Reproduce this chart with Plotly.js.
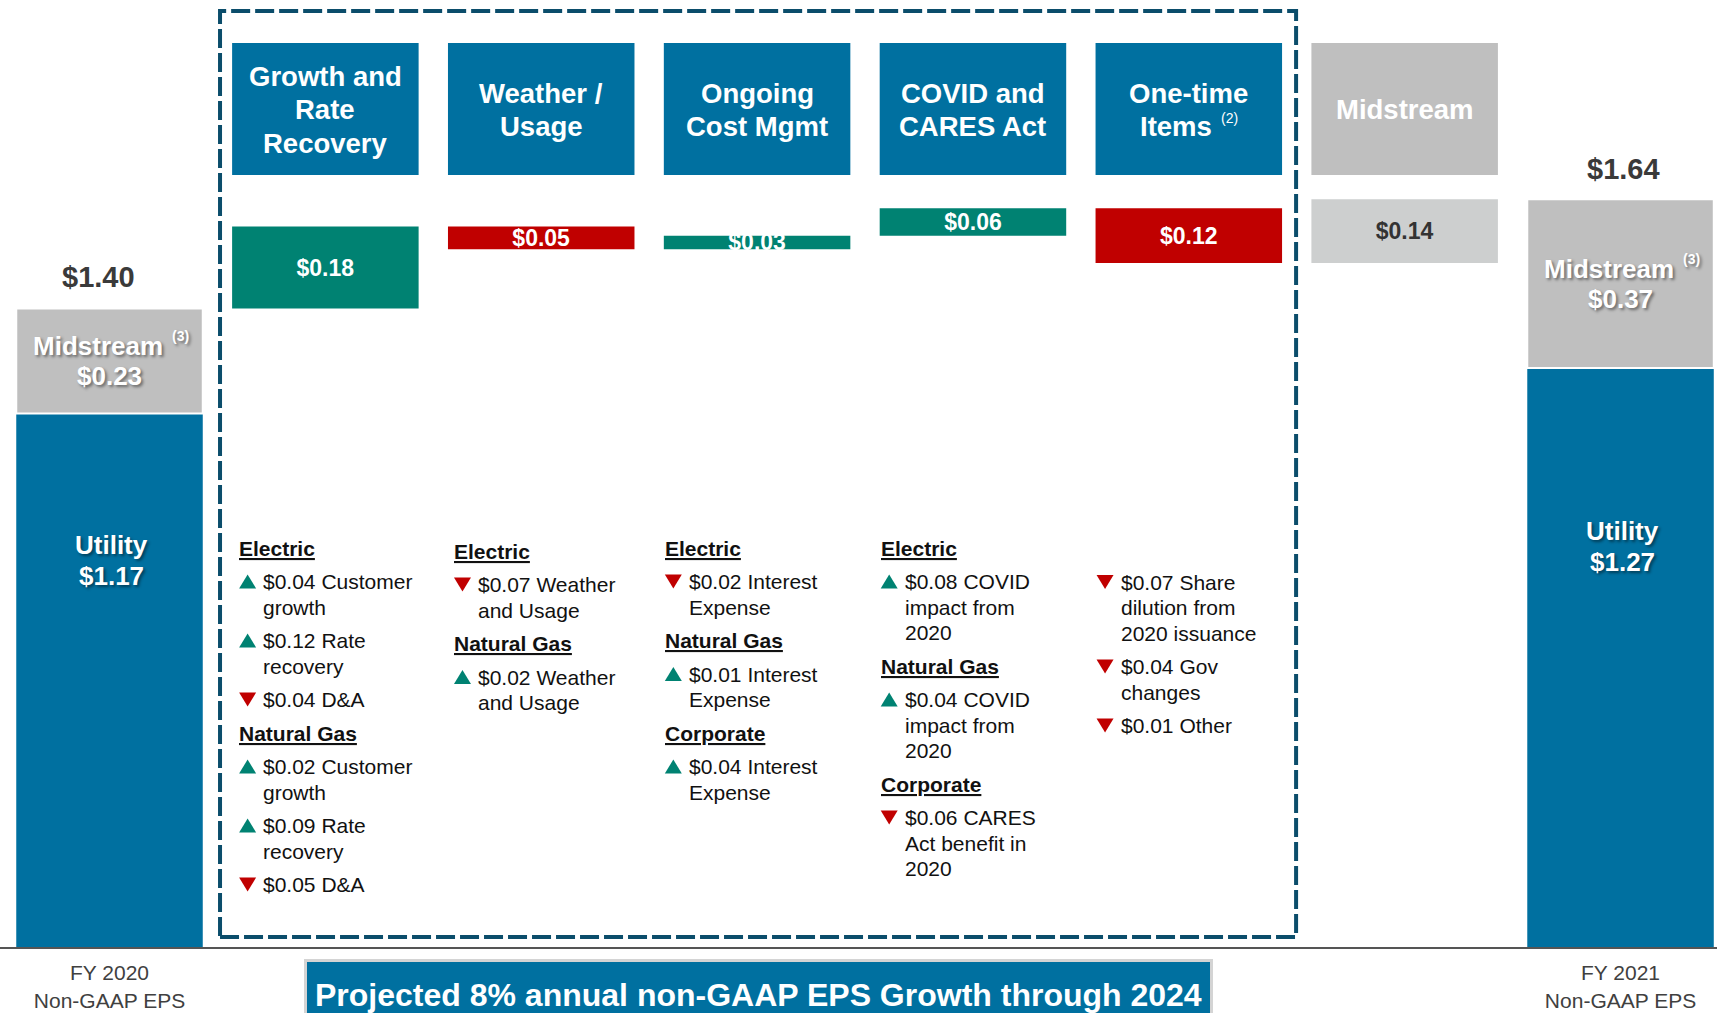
<!DOCTYPE html>
<html><head><meta charset="utf-8">
<script src="https://cdn.plot.ly/plotly-3.0.1.min.js"></script>
<style>html,body{margin:0;padding:0;background:#fff;overflow:hidden}#chart{width:1717px;height:1013px}</style>
</head><body><div id="chart"></div>
<script>
// ================= DATA =================
const categories = ["FY 2020<br>Non-GAAP EPS", "Growth and Rate Recovery", "Weather / Usage",
  "Ongoing Cost Mgmt", "COVID and CARES Act", "One-time Items", "Midstream", "FY 2021<br>Non-GAAP EPS"];
const headerLines = [["Growth and", "Rate", "Recovery"], ["Weather /", "Usage"], ["Ongoing", "Cost Mgmt"],
  ["COVID and", "CARES Act"], ["One-time", "Items"], ["Midstream"]];
const headerFootnotes = ["", "", "", "", "(2)", ""];
const utilityEps = [1.17, 1.27];     // FY 2020, FY 2021
const midstreamEps = [0.23, 0.37];   // FY 2020, FY 2021
const midstreamFootnote = "(3)";
const stepValues = [0.18, -0.05, 0.03, 0.06, -0.12, 0.14];
const stepSegment = ["utility", "utility", "utility", "utility", "utility", "midstream"];
const notesGrowth = [["h", "Electric"], ["up", "$0.04 Customer", "growth"], ["up", "$0.12 Rate", "recovery"],
  ["down", "$0.04 D&amp;A"], ["h", "Natural Gas"], ["up", "$0.02 Customer", "growth"],
  ["up", "$0.09 Rate", "recovery"], ["down", "$0.05 D&amp;A"]];
const notesWeather = [["h", "Electric"], ["down", "$0.07 Weather", "and Usage"], ["h", "Natural Gas"],
  ["up", "$0.02 Weather", "and Usage"]];
const notesCost = [["h", "Electric"], ["down", "$0.02 Interest", "Expense"], ["h", "Natural Gas"],
  ["up", "$0.01 Interest", "Expense"], ["h", "Corporate"], ["up", "$0.04 Interest", "Expense"]];
const notesCovid = [["h", "Electric"], ["up", "$0.08 COVID", "impact from", "2020"], ["h", "Natural Gas"],
  ["up", "$0.04 COVID", "impact from", "2020"], ["h", "Corporate"], ["down", "$0.06 CARES", "Act benefit in", "2020"]];
const notesOneTime = [["down", "$0.07 Share", "dilution from", "2020 issuance"], ["down", "$0.04 Gov", "changes"],
  ["down", "$0.01 Other"]];
const bannerText = "Projected 8% annual non-GAAP EPS Growth through 2024";

// ================= STYLE / LAYOUT CONSTANTS =================
const FONT = "Liberation Sans, Arial, Helvetica, sans-serif";
const BLUE = "#0070A0", TEAL = "#008272", RED = "#C00000", GRAY = "#BFBFBF", LIGHTGRAY = "#CDCFCF",
  NAVY = "#0B4D6B", DARK = "#3A3A3A", TXT = "#111111";
const W = 1717, H = 1013, PLOT_BOTTOM = 947, PX_PER_DOLLAR = 456;
const BW = 0.864;
const R0 = -0.5073, R1 = R0 + W / 215.86;
const yp = px => 1 - px / PLOT_BOTTOM;
const xPaper = (idx, shiftPx) => ((idx - R0) / (R1 - R0) * W + shiftPx) / W;
const SHADOW = "2px 2px 3px rgba(0,0,0,0.45)";

// ================= COMPUTE WATERFALL =================
const startTotal = utilityEps[0] + midstreamEps[0];
const endTotal = utilityEps[1] + midstreamEps[1];
let run = startTotal;
const stepBase = [], stepHeight = [];
stepValues.forEach(v => { const nxt = run + v; stepBase.push(Math.min(run, nxt)); stepHeight.push(Math.abs(v)); run = nxt; });
const stepCats = categories.slice(1, 7);
const endCats = [categories[0], categories[7]];
const stepColors = stepValues.map((v, i) => stepSegment[i] === "midstream" ? LIGHTGRAY : (v >= 0 ? TEAL : RED));
const stepTextColors = stepSegment.map(s => s === "midstream" ? "#333333" : "#FFFFFF");
const money = v => "$" + Math.abs(v).toFixed(2);

const traces = [
  { type: "bar", x: endCats, y: utilityEps, base: [0, 0], width: BW, marker: { color: BLUE, line: { width: 0 } }, hoverinfo: "skip" },
  { type: "bar", x: endCats, y: midstreamEps, base: utilityEps, width: BW, marker: { color: GRAY, line: { color: "#FFFFFF", width: 2 } }, hoverinfo: "skip" },
  { type: "bar", x: stepCats, y: stepHeight, base: stepBase, width: BW,
    marker: { color: stepColors, line: { width: 0 } },
    text: stepValues.map(money), texttemplate: "<b>%{text}</b>", textposition: "inside", insidetextanchor: "middle",
    constraintext: "none", textangle: 0, textfont: { family: FONT, size: 23, color: stepTextColors }, hoverinfo: "skip" }
];

const shapes = [], annotations = [];

// header boxes
headerLines.forEach((lines, i) => {
  const idx = i + 1;
  shapes.push({ type: "rect", layer: "above", xref: "x", yref: "paper", x0: idx - BW / 2, x1: idx + BW / 2,
    y0: yp(175), y1: yp(43), fillcolor: stepSegment[i] === "midstream" ? GRAY : BLUE, line: { width: 0 } });
  const n = lines.length;
  lines.forEach((t, k) => {
    const last = k === n - 1 && headerFootnotes[i];
    const yc = 110 + (k - (n - 1) / 2) * 33.5;
    annotations.push({ xref: "x", yref: "paper", x: idx, y: yp(yc), xshift: last ? -13 : 0, showarrow: false,
      text: "<b>" + t + "</b>", font: { family: FONT, size: 27.5, color: "#FFFFFF" }, xanchor: "center", yanchor: "middle" });
    if (last) annotations.push({ xref: "x", yref: "paper", x: idx, y: yp(yc - 9), xshift: 41, showarrow: false,
      text: headerFootnotes[i], font: { family: FONT, size: 14, color: "#FFFFFF" }, xanchor: "center", yanchor: "middle" });
  });
});

// dashed frame
shapes.push({ type: "rect", layer: "above", xref: "x", yref: "paper", x0: 0.512, x1: 5.497, y0: yp(937), y1: yp(11),
  line: { color: NAVY, width: 4, dash: "19px,5px" }, fillcolor: "rgba(0,0,0,0)" });

// totals
[[0, startTotal, -11, 32], [1, endTotal, 3, 30]].forEach(([j, tot, xs, ys]) => {
  annotations.push({ xref: "x", yref: "y", x: endCats[j], y: tot, xshift: xs, yshift: ys, showarrow: false,
    text: "<b>" + money(tot) + "</b>", font: { family: FONT, size: 29, color: DARK }, yanchor: "middle" });
});

// labels inside FY bars
const UTIL_LABEL_Y = [560, 546];
[0, 1].forEach(j => {
  ["Utility", money(utilityEps[j])].forEach((t, k) => {
    annotations.push({ xref: "x", yref: "paper", x: endCats[j], y: yp(UTIL_LABEL_Y[j] + (k - 0.5) * 31), xshift: 2, showarrow: false,
      text: "<b>" + t + "</b>", font: { family: FONT, size: 26, color: "#FFFFFF", shadow: SHADOW }, yanchor: "middle" });
  });
  const midC = utilityEps[j] + midstreamEps[j] / 2;
  annotations.push({ xref: "x", yref: "y", x: endCats[j], y: midC, xshift: -12, yshift: 15, showarrow: false,
    text: "<b>Midstream</b>", font: { family: FONT, size: 26, color: "#FFFFFF", shadow: SHADOW }, yanchor: "middle" });
  annotations.push({ xref: "x", yref: "y", x: endCats[j], y: midC, xshift: 71, yshift: 25, showarrow: false,
    text: "<b>" + midstreamFootnote + "</b>", font: { family: FONT, size: 14, color: "#FFFFFF", shadow: SHADOW }, yanchor: "middle" });
  annotations.push({ xref: "x", yref: "y", x: endCats[j], y: midC, yshift: -15, showarrow: false,
    text: "<b>" + money(midstreamEps[j]) + "</b>", font: { family: FONT, size: 26, color: "#FFFFFF", shadow: SHADOW }, yanchor: "middle" });
});

// notes under each driver
const allNotes = [notesGrowth, notesWeather, notesCost, notesCovid, notesOneTime];
const NOTE_START = [548, 551, 548, 548, 582];
const NOTE_SHIFT = [6, 5, 0, 0, 0];
const ITEM_GAP = 33.5, LINE_GAP = 25.5, TRI_W = 17, TRI_H = 14;
allNotes.forEach((col, c) => {
  const idx = c + 1, xl = idx - BW / 2, sh = NOTE_SHIFT[c];
  let y = NOTE_START[c];
  col.forEach((item, k) => {
    if (k > 0) y += ITEM_GAP;
    const kind = item[0], lines = item.slice(1);
    if (kind === "h") {
      annotations.push({ xref: "x", yref: "paper", x: xl, y: yp(y), xshift: sh, showarrow: false, xanchor: "left", yanchor: "middle",
        borderpad: 0, text: "<b><u>" + lines[0] + "</u></b>", font: { family: FONT, size: 21, color: TXT } });
      return;
    }
    const x0 = xPaper(xl, sh + 1), x1 = xPaper(xl, sh + 1 + TRI_W), xm = (x0 + x1) / 2;
    const yt = yp(y - TRI_H / 2), yb = yp(y + TRI_H / 2);
    const path = kind === "up" ? `M ${x0} ${yb} L ${x1} ${yb} L ${xm} ${yt} Z` : `M ${x0} ${yt} L ${x1} ${yt} L ${xm} ${yb} Z`;
    shapes.push({ type: "path", layer: "above", xref: "paper", yref: "paper", path, fillcolor: kind === "up" ? TEAL : RED, line: { width: 0 } });
    lines.forEach((t, li) => {
      if (li > 0) y += LINE_GAP;
      annotations.push({ xref: "x", yref: "paper", x: xl, y: yp(y), xshift: sh + 24, showarrow: false, xanchor: "left", yanchor: "middle",
        borderpad: 0, text: t, font: { family: FONT, size: 21, color: TXT } });
    });
  });
});

// banner
shapes.push({ type: "rect", layer: "above", xref: "paper", yref: "paper", x0: 304 / W, x1: 1213 / W, y0: yp(1040), y1: yp(959),
  fillcolor: "#D4D4D4", line: { width: 0 } });
shapes.push({ type: "rect", layer: "above", xref: "paper", yref: "paper", x0: 307 / W, x1: 1210 / W, y0: yp(1040), y1: yp(962),
  fillcolor: BLUE, line: { width: 0 } });
annotations.push({ xref: "paper", yref: "paper", x: 758.5 / W, y: yp(995), showarrow: false, xanchor: "center", yanchor: "middle",
  text: "<b>" + bannerText + "</b>", font: { family: FONT, size: 32, color: "#FFFFFF" } });

const layout = {
  width: W, height: H, margin: { l: 0, r: 0, t: 0, b: H - PLOT_BOTTOM, pad: 0 },
  paper_bgcolor: "#FFFFFF", plot_bgcolor: "rgba(0,0,0,0)", showlegend: false, barmode: "overlay",
  font: { family: FONT, color: DARK },
  xaxis: { type: "category", categoryorder: "array", categoryarray: categories, range: [R0, R1],
    tickmode: "array", tickvals: endCats, ticktext: endCats, ticks: "", ticklabelstandoff: 6, showgrid: false, zeroline: false,
    showline: true, linecolor: "#555555", linewidth: 2, tickfont: { family: FONT, size: 21, color: "#404040" },
    automargin: false, fixedrange: true },
  yaxis: { range: [0, PLOT_BOTTOM / PX_PER_DOLLAR], visible: false, showgrid: false, zeroline: false, fixedrange: true },
  shapes, annotations
};
Plotly.newPlot("chart", traces, layout, { staticPlot: true, displayModeBar: false });
</script></body></html>
